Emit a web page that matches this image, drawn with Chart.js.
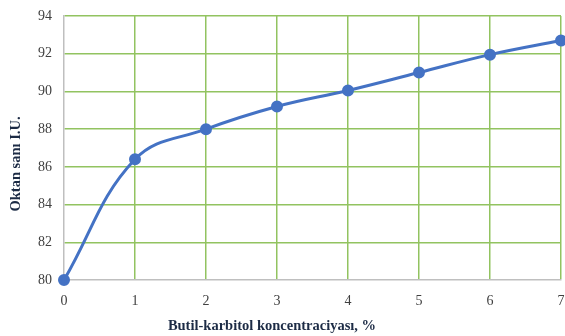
<!DOCTYPE html>
<html>
<head>
<meta charset="utf-8">
<script src="https://cdn.jsdelivr.net/npm/chart.js@4/dist/chart.umd.min.js"></script>
<style>
  html, body { margin: 0; padding: 0; background: #ffffff; }
  #wrap { width: 565px; height: 336px; }
</style>
</head>
<body>
<div id="wrap"><canvas id="c" width="565" height="336"></canvas></div>
<script>
// Butyl carbitol concentration (%) and the resulting octane number
const concentration = [0, 1, 2, 3, 4, 5, 6, 7];
const octaneNumber = [80, 86.4, 88.0, 89.2, 90.05, 91.0, 91.95, 92.7];
const yTicks = [80, 82, 84, 86, 88, 90, 92, 94];
const xTitle = 'Butil-karbitol koncentraciyası, %';
const yTitle = 'Oktan sanı I.U.';

const gridGreen = '#92c360';
const axisGray = '#bfbfbf';
const titleColor = '#1c2b45';

// Axis titles, placed by hand below and to the left of the plot
const axisTitles = {
  id: 'axisTitles',
  afterDraw(chart) {
    const ctx = chart.ctx;
    ctx.save();
    ctx.fillStyle = titleColor;
    ctx.font = 'bold 14.5px "Liberation Serif", "Times New Roman", serif';
    ctx.textAlign = 'center';
    ctx.textBaseline = 'middle';
    ctx.fillText(xTitle, 272, 326);
    ctx.translate(16, 164);
    ctx.rotate(-Math.PI / 2);
    ctx.fillText(yTitle, 0, 0);
    ctx.restore();
  }
};

new Chart(document.getElementById('c'), {
  type: 'line',
  data: {
    datasets: [{
      data: concentration.map((x, i) => ({ x, y: octaneNumber[i] })),
      borderColor: '#4472c4',
      backgroundColor: '#4472c4',
      borderWidth: 3,
      pointRadius: 4.5,
      pointHoverRadius: 4.5,
      tension: 0.4,
      fill: false,
      clip: false
    }]
  },
  options: {
    responsive: false,
    animation: false,
    layout: { autoPadding: false, padding: { top: 16, right: 4, left: 0, bottom: 0 } },
    plugins: { legend: { display: false }, tooltip: { enabled: false } },
    scales: {
      x: {
        type: 'linear',
        min: 0, max: 7,
        afterFit(scale) {
          scale.height = 56;
          scale.paddingLeft = 0;
          scale.paddingRight = 0;
        },
        ticks: {
          stepSize: 1,
          padding: 13,
          color: '#404040',
          font: { family: '"Liberation Serif", "Times New Roman", serif', size: 14 }
        },
        grid: {
          drawTicks: false,
          lineWidth: 1.5,
          color: ctx => ctx.index === 0 ? 'rgba(0,0,0,0)' : gridGreen
        },
        border: { color: axisGray, width: 1.5 }
      },
      y: {
        min: 80, max: 94,
        afterFit(scale) {
          scale.width = 64;
          scale.paddingTop = 0;
          scale.paddingBottom = 0;
        },
        afterBuildTicks(scale) { scale.ticks = yTicks.map(v => ({ value: v })); },
        ticks: {
          padding: 12,
          color: '#404040',
          font: { family: '"Liberation Serif", "Times New Roman", serif', size: 14 }
        },
        grid: {
          drawTicks: false,
          lineWidth: 1.5,
          color: ctx => ctx.index === 0 ? 'rgba(0,0,0,0)' : gridGreen
        },
        border: { color: axisGray, width: 1.5 }
      }
    }
  },
  plugins: [axisTitles]
});
</script>
</body>
</html>
